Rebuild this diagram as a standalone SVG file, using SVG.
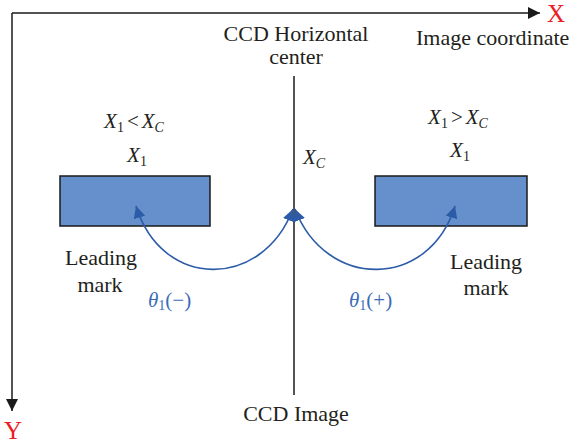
<svg xmlns="http://www.w3.org/2000/svg" width="575" height="446" viewBox="0 0 575 446" font-family="'Liberation Serif', 'DejaVu Serif', serif">
<style>
text{font-family:'Liberation Serif','DejaVu Serif',serif;fill:#231f20;font-size:22px}
.m{font-style:italic;font-size:21px}
.s{font-style:normal;font-size:14px}
.si{font-style:italic;font-size:14px}
.n{font-style:normal}
.red{fill:#ee1c25;font-size:25px}
.blue{fill:#3b6cb8}
.box{fill:#6590cb;stroke:#1a1a1a;stroke-width:1.5}
.ax{stroke:#1a1a1a;stroke-width:1.5;fill:none}
.arc{stroke:#2c5ba8;stroke-width:1.6;fill:none}
</style>
<defs>
<marker id="ah" viewBox="0 0 10 10" refX="10" refY="5" markerWidth="13" markerHeight="12" markerUnits="userSpaceOnUse" orient="auto"><path d="M0,0L10,5L0,10z" fill="#1a1a1a"/></marker>
<marker id="bh" viewBox="0 0 10 10" refX="10" refY="5" markerWidth="12" markerHeight="12" markerUnits="userSpaceOnUse" orient="auto-start-reverse"><path d="M0,0L10,5L0,10z" fill="#2c5ba8"/></marker>
</defs>
<g id="axes">
<path class="ax" d="M12,13H540" marker-end="url(#ah)"/>
<path class="ax" d="M12,13V411" marker-end="url(#ah)"/>
<text class="red" x="547" y="22">X</text>
<text class="red" x="4" y="439">Y</text>
<text x="416" y="45">Image coordinate</text>
</g>
<g id="center-line">
<path class="ax" d="M294,76V395"/>
<text x="296" y="41" text-anchor="middle">CCD Horizontal</text>
<text x="296" y="64" text-anchor="middle">center</text>
<text x="296" y="421" text-anchor="middle">CCD Image</text>
<text class="m" x="303" y="164">X<tspan class="si" dy="4">C</tspan></text>
</g>
<g id="left-mark">
<rect class="box" x="60" y="176" width="150" height="50"/>
<text class="m" x="134" y="128" text-anchor="middle">X<tspan class="s" dy="4">1</tspan><tspan class="n" dy="-4" dx="3">&lt;</tspan><tspan dx="3">X</tspan><tspan class="si" dy="4">C</tspan></text>
<text class="m" x="137" y="162" text-anchor="middle">X<tspan class="s" dy="4">1</tspan></text>
<text x="101" y="265" text-anchor="middle">Leading</text>
<text x="100" y="292" text-anchor="middle">mark</text>
</g>
<g id="right-mark">
<rect class="box" x="375" y="176" width="152" height="50"/>
<text class="m" x="458" y="124" text-anchor="middle">X<tspan class="s" dy="4">1</tspan><tspan class="n" dy="-4" dx="3">&gt;</tspan><tspan dx="3">X</tspan><tspan class="si" dy="4">C</tspan></text>
<text class="m" x="460" y="157" text-anchor="middle">X<tspan class="s" dy="4">1</tspan></text>
<text x="486" y="269" text-anchor="middle">Leading</text>
<text x="486" y="295" text-anchor="middle">mark</text>
</g>
<g id="connectors">
<path class="arc" d="M136,206C162,290 262,290 293,209" marker-start="url(#bh)" marker-end="url(#bh)"/>
<path class="arc" d="M455,206C429,290 326,290 295,209" marker-start="url(#bh)" marker-end="url(#bh)"/>
<text class="m blue" x="148" y="307">θ<tspan class="s" dy="3">1</tspan><tspan class="n" dy="-3">(−)</tspan></text>
<text class="m blue" x="349" y="307">θ<tspan class="s" dy="3">1</tspan><tspan class="n" dy="-3">(+)</tspan></text>
</g>
</svg>
